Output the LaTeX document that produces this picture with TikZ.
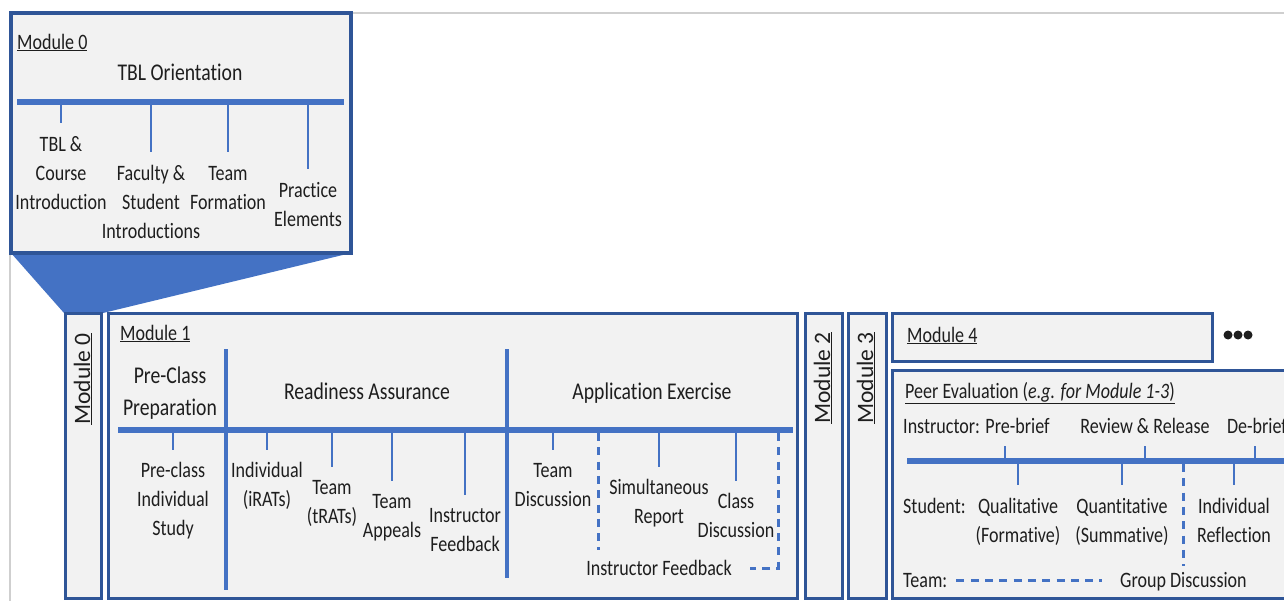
\documentclass[tikz,border=0pt]{standalone}
\usepackage{fontspec}
\setmainfont{Carlito}[FakeStretch=0.82,Ligatures=NoCommon]
\newfontfamily\vfont{Carlito}[Ligatures=NoCommon]
\definecolor{boxfill}{HTML}{F2F2F2}
\definecolor{boxline}{HTML}{2F5597}
\definecolor{lb}{HTML}{4472C4}
\definecolor{txt}{HTML}{1E1E1E}
\definecolor{framegray}{HTML}{CFCFCF}
\newcommand{\fa}{\rule{0pt}{18pt}}
\newcommand{\fb}{\rule{0pt}{20pt}}
\begin{document}
\begin{tikzpicture}[x=1pt,y=-1pt,
  box/.style={draw=boxline, fill=boxfill, line width=3pt},
  mainline/.style={draw=lb, line width=5.5pt},
  divider/.style={draw=lb, line width=4pt},
  tick/.style={draw=lb, line width=2.7pt},
  dsh/.style={draw=lb, line width=3pt, dash pattern=on 8pt off 6.3pt},
  sm/.style={inner sep=0pt, align=center, anchor=north, text=txt, font=\fontsize{22}{29.3}\selectfont},
  smb/.style={inner sep=0pt, anchor=base, text=txt, font=\fontsize{22}{29.3}\selectfont},
  smw/.style={inner sep=0pt, anchor=base west, text=txt, font=\fontsize{22}{29.3}\selectfont},
  hd/.style={inner sep=0pt, anchor=base, text=txt, font=\fontsize{24}{32}\selectfont},
  hdn/.style={inner sep=0pt, anchor=north, align=center, text=txt, font=\fontsize{24}{32}\selectfont},
  vlabel/.style={inner sep=0pt, rotate=90, text=txt, font=\vfont\fontsize{23.5}{29}\selectfont},
]
\useasboundingbox (0,0) rectangle (1284,600);
\clip (0,0) rectangle (1284,600);
\fill[white] (0,0) rectangle (1284,600);
% slide frame
\draw[framegray, line width=1.5pt] (10,253) -- (10,602);
\draw[framegray, line width=1.5pt] (351,13) -- (1290,13);
% zoom wedge
\fill[lb] (11,253) -- (351,253) -- (103,313) -- (64,313) -- cycle;
% ---------- Module 0 zoom box ----------
\draw[box, line width=3.5pt] (11,13) rectangle (351,253);
\node[smw] (m0lbl) at (17,49) {\underline{Module 0}};
\node[hd] (tbl) at (180,80) {TBL Orientation};
\coordinate (zl1) at (17,102);
\coordinate (zl2) at (344,102);
\draw[mainline] (zl1) -- (zl2);
\node[sm] (tci) at (61,133) {\fa TBL \&\\Course\\Introduction};
\node[sm] (fsi) at (151,162) {\fa Faculty \&\\Student\\Introductions};
\node[sm] (tf) at (228,162) {\fa Team\\Formation};
\node[sm] (pe) at (308,179) {\fa Practice\\Elements};
\foreach \n in {tci,fsi,tf,pe}
  \draw[tick] (\n.north |- zl1) -- ([yshift=10pt]\n.north);
% ---------- narrow module boxes ----------
\draw[box] (65,313) rectangle (101,598);
\node[vlabel] (m0v) at (83,379) {\underline{Module 0}};
\draw[box] (805,313) rectangle (842,598);
\node[vlabel] (m2v) at (823,378) {\underline{Module 2}};
\draw[box] (848,313) rectangle (886,598);
\node[vlabel] (m3v) at (866,378) {\underline{Module 3}};
% ---------- Module 1 ----------
\draw[box] (108,313) rectangle (797,598);
\node[smw] (m1lbl) at (120,340) {\underline{Module 1}};
\node[hdn] (pcp) at (170,363) {\fb Pre-Class\\Preparation};
\node[hd] (ra) at (367,399) {Readiness Assurance};
\node[hd] (ae) at (652,399) {Application Exercise};
\coordinate (hl1) at (118,430);
\coordinate (hl2) at (793,430);
\draw[mainline] (hl1) -- (hl2);
\draw[divider] (226,349) -- (226,590);
\draw[divider] (507,349) -- (507,578);
\node[sm] (pcs) at (173,459) {\fa Pre-class\\Individual\\Study};
\node[sm] (irat) at (267,459) {\fa Individual\\(iRATs)};
\node[sm] (trat) at (332,476) {\fa Team\\(tRATs)};
\node[sm] (tapp) at (392,490) {\fa Team\\Appeals};
\node[sm] (ifb) at (465,504) {\fa Instructor\\Feedback};
\node[sm] (tdis) at (553,459) {\fa Team\\Discussion};
\node[sm] (srep) at (659,476) {\fa Simultaneous\\Report};
\node[sm] (cdis) at (736,490) {\fa Class\\Discussion};
\node[smb] (aefb) at (659,575) {Instructor Feedback};
\foreach \n in {pcs,irat,trat,tapp,ifb,tdis,srep,cdis}
  \draw[tick] (\n.north |- hl1) -- ([yshift=9pt]\n.north);
\draw[dsh] (598,433) -- (598,550);
\draw[dsh] (778,433) -- (778,568) -- ([xshift=18pt]aefb.east |- 0,568);
% ---------- Module 4 ----------
\draw[box] (892,313) rectangle (1212,361);
\node[smw] (m4lbl) at (907,342) {\underline{Module 4}};
\foreach \x in {1228,1238,1248}
  \fill[txt] (\x,335) circle (4.5pt);
% ---------- Peer evaluation ----------
\draw[box] (892,370) rectangle (1300,598);
\node[smw] (pelbl) at (905,398) {\underline{Peer Evaluation (\textit{e.g. for Module 1-3})}};
\node[smw] (instr) at (903,433) {Instructor: Pre-brief};
\node[smb] (rr) at (1145,433) {Review \& Release};
\node[smb] (db) at (1257,433) {De-brief};
\coordinate (tl1) at (907,461);
\coordinate (tl2) at (1300,461);
\draw[mainline] (tl1) -- (tl2);
\draw[tick] (1005,461) -- (1005,446);
\draw[tick] (rr.south |- tl1) -- ([yshift=-13pt]rr.south);
\draw[tick] (1255,461) -- (1255,446);
\node[smw] (stu) at (903,513) {Student:};
\node[sm] (qual) at (1018,495) {\fa Qualitative\\(Formative)};
\node[sm] (quan) at (1122,495) {\fa Quantitative\\(Summative)};
\node[sm] (indr) at (1234,495) {\fa Individual\\Reflection};
\foreach \n in {qual,quan,indr}
  \draw[tick] (\n.north |- tl1) -- ([yshift=10pt]\n.north);
\draw[dsh] (1183,464) -- (1183,566);
\node[smw] (team) at (903,587) {Team:};
\node[smw] (grp) at (1120,587) {Group Discussion};
\draw[dsh] ([xshift=9pt]team.east) -- ([xshift=-18pt]grp.west |- team.east);
\end{tikzpicture}
\end{document}
